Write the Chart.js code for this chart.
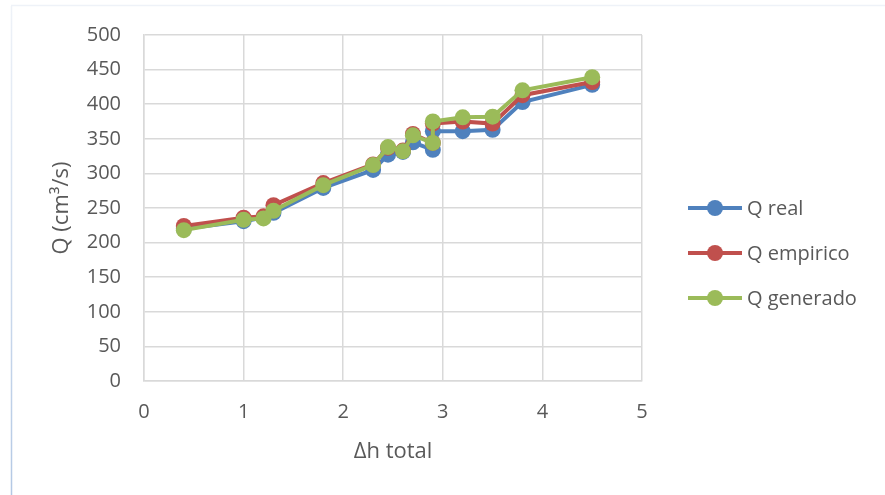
<!DOCTYPE html>
<html>
<head>
<meta charset="utf-8">
<script src="https://cdn.jsdelivr.net/npm/chart.js@4.4.1/dist/chart.umd.min.js"></script>
<style>
  html, body { margin: 0; padding: 0; background: #ffffff; }
  #wrap { width: 885px; height: 495px; position: relative; }
</style>
</head>
<body>
<div id="wrap"><canvas id="c" width="885" height="495"></canvas></div>
<script>
// Δh total (x) and measured / empirical / generated flow rates (y)
const dhTotal = [0.4, 1.0, 1.2, 1.3, 1.8, 2.3, 2.45, 2.6, 2.7, 2.9, 2.9, 3.2, 3.5, 3.8, 4.5];
const qReal = [220, 231, 236, 243, 279, 305, 327, 331, 345, 334, 361, 361, 363, 403, 428];
const qEmpirico = [224, 236, 238, 254, 286, 313, 337, 333, 357, 344, 372, 375, 372, 413, 432];
const qGenerado = [218, 233, 235, 246, 283, 312, 338, 332, 355, 344, 375, 381, 382, 420, 439];

const seriesNames = ['Q real', 'Q empirico', 'Q generado'];
const seriesColors = ['#4F81BD', '#C0504D', '#9BBB59'];
const xTicks = [0, 1, 2, 3, 4, 5];
const yTicks = [0, 50, 100, 150, 200, 250, 300, 350, 400, 450, 500];

const FONT = '"Open Sans", "Noto Sans", sans-serif';
const TEXT = '#595959';
const GRID = '#D9D9D9';

function pts(ys) { return dhTotal.map((x, i) => ({ x: x, y: ys[i] })); }

const allSeries = [qReal, qEmpirico, qGenerado];
const datasets = allSeries.map((ys, i) => ({
  label: seriesNames[i],
  data: pts(ys),
  borderColor: seriesColors[i],
  backgroundColor: seriesColors[i],
  pointBackgroundColor: seriesColors[i],
  pointBorderColor: seriesColors[i],
  borderWidth: 4,
  pointRadius: 8,
  pointBorderWidth: 0,
  showLine: true,
  tension: 0,
  order: allSeries.length - 1 - i
}));

// white page, outer frame edges
const frame = {
  id: 'frame',
  beforeDraw(chart) {
    const ctx = chart.ctx;
    ctx.save();
    ctx.fillStyle = '#ffffff';
    ctx.fillRect(0, 0, chart.width, chart.height);
    const g = ctx.createLinearGradient(0, 6, 0, chart.height);
    g.addColorStop(0, '#eef2f8');
    g.addColorStop(1, '#b3c8e4');
    ctx.strokeStyle = g;
    ctx.lineWidth = 1.5;
    ctx.beginPath();
    ctx.moveTo(11.5, 6);
    ctx.lineTo(11.5, chart.height);
    ctx.stroke();
    ctx.strokeStyle = '#eef2f8';
    ctx.beginPath();
    ctx.moveTo(11, 5.5);
    ctx.lineTo(chart.width, 5.5);
    ctx.stroke();
    ctx.restore();
  }
};

// legend with line + marker swatches, to the right of the plot
const sideLegend = {
  id: 'sideLegend',
  afterDraw(chart) {
    const ctx = chart.ctx;
    const area = chart.chartArea;
    const x0 = area.right + 46;
    const rows = [208, 253, 298];
    ctx.save();
    chart.data.datasets.forEach((ds, i) => {
      const y = rows[i];
      ctx.strokeStyle = ds.borderColor;
      ctx.lineWidth = 4;
      ctx.beginPath();
      ctx.moveTo(x0, y);
      ctx.lineTo(x0 + 54, y);
      ctx.stroke();
      ctx.fillStyle = ds.borderColor;
      ctx.beginPath();
      ctx.arc(x0 + 27, y, 8, 0, Math.PI * 2);
      ctx.fill();
      ctx.fillStyle = TEXT;
      ctx.font = '20px ' + FONT;
      ctx.textBaseline = 'middle';
      ctx.textAlign = 'left';
      ctx.fillText(ds.label, x0 + 59, y + 1);
    });
    ctx.restore();
  }
};

new Chart(document.getElementById('c'), {
  type: 'scatter',
  data: { datasets: datasets },
  plugins: [frame, sideLegend],
  options: {
    responsive: false,
    animation: false,
    devicePixelRatio: 1,
    layout: { padding: { left: 12, right: 243, top: 35, bottom: 20 } },
    plugins: { legend: { display: false }, tooltip: { enabled: false } },
    scales: {
      x: {
        type: 'linear',
        min: 0, max: 5,
        afterBuildTicks(scale) { scale.ticks = xTicks.map(v => ({ value: v })); },
        afterFit(scale) { scale.height = 495 - 20 - 381; },
        grid: { color: GRID, lineWidth: 1.5, drawTicks: false },
        border: { color: GRID, width: 1.5 },
        ticks: { color: TEXT, padding: 19, font: { family: FONT, size: 20 } },
        title: {
          display: true, text: 'Δh total', color: TEXT,
          font: { family: FONT, size: 22 }, padding: { top: 0, bottom: 10 }
        }
      },
      y: {
        type: 'linear',
        min: 0, max: 500,
        afterBuildTicks(scale) { scale.ticks = yTicks.map(v => ({ value: v })); },
        afterFit(scale) { scale.width = 144 - 12; },
        grid: { color: GRID, lineWidth: 1.5, drawTicks: false },
        border: { color: GRID, width: 1.5 },
        ticks: { color: TEXT, padding: 23, font: { family: FONT, size: 20 } },
        title: {
          display: true, text: 'Q (cm³/s)', color: TEXT,
          font: { family: FONT, size: 22 }, padding: { top: 37, bottom: 0 }
        }
      }
    }
  }
});
</script>
</body>
</html>
